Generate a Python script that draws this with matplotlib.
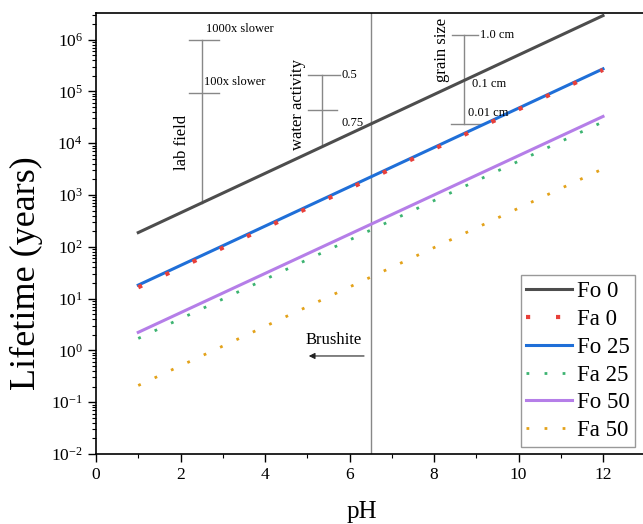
import matplotlib
matplotlib.use('Agg')
import matplotlib.pyplot as plt

plt.rcParams['font.family'] = ['Liberation Serif', 'DejaVu Serif']
plt.rcParams['mathtext.default'] = 'regular'
plt.rcParams['axes.unicode_minus'] = False

# lifetimes (years) at the two ends of the pH range
ph = [1, 12]
fo0 = [188, 2.9e6]
fa0 = [16.5, 2.6e5]
fo25 = [18.2, 2.72e5]
fa25 = [1.7, 2.58e4]
fo50 = [2.23, 3.28e4]
fa50 = [0.21, 3.2e3]

brushite_ph = 6.5

# scale bars (pH position, lifetime ends)
lab_ph = 2.5
lab_span = [700, 1.0e6]
lab_marks = [1.0e6, 9.3e4]
lab_labels = ['1000x slower', '100x slower']

water_ph = 5.34
water_span = [8.7e3, 2.1e5]
water_marks = [2.1e5, 4.3e4]
water_labels = ['0.5', '0.75']

grain_ph = 8.72
grain_span = [2.3e4, 1.25e6]
grain_marks = [1.25e6, 2.3e4]
grain_labels = ['1.0 cm', '0.1 cm', '0.01 cm']
grain_label_y = [1.25e6, 1.4e5, 3.9e4]
grain_label_x = [9.09, 8.89, 8.80]

fig = plt.figure(figsize=(6.43, 5.24), dpi=100)
ax = fig.add_axes([96/643, 1-454/524, 1-96/643, (454-12.7)/524])

gray = '#888888'
ax.plot(ph, fo0, color='#4d4d4d', lw=2.2, label='Fo 0', zorder=3)
ax.plot(ph, fa0, color='#e8403a', lw=3, ls=(0, (1, 6.2)), label='Fa 0', zorder=4)
ax.plot(ph, fo25, color='#1f6fd8', lw=2.2, label='Fo 25', zorder=3)
ax.plot(ph, fa25, color='#3cb371', lw=2, ls=(0, (1, 5.5)), label='Fa 25', zorder=3)
ax.plot(ph, fo50, color='#b57ee8', lw=2.2, label='Fo 50', zorder=3)
ax.plot(ph, fa50, color='#e3a21a', lw=2, ls=(0, (1, 5.5)), label='Fa 50', zorder=3)

# brushite boundary
ax.axvline(brushite_ph, color=gray, lw=1, zorder=1)
ax.text(5.63, 1.6, 'Brushite', fontsize=12, ha='center', va='center')
ax.annotate('', xy=(4.97, 0.78), xytext=(6.41, 0.78),
            arrowprops=dict(arrowstyle='-|>', color='#222222', lw=0.8,
                            mutation_scale=9))

# lab field bar
ax.plot([lab_ph, lab_ph], lab_span, color=gray, lw=1)
for m in lab_marks:
    ax.plot([2.2, 2.91], [m, m], color=gray, lw=1)
ax.text(2.6, 1.2e6, lab_labels[0], fontsize=9, ha='left', va='bottom')
ax.text(2.55, 1.15e5, lab_labels[1], fontsize=9, ha='left', va='bottom')
ax.text(2.03, 1.05e4, 'lab field', fontsize=12, rotation=90, ha='center', va='center')

# water activity bar
ax.plot([water_ph, water_ph], water_span, color=gray, lw=1)
ax.plot([5.02, 5.78], [water_marks[0]] * 2, color=gray, lw=1)
ax.plot([5.02, 5.70], [water_marks[1]] * 2, color=gray, lw=1)
ax.text(5.8, water_marks[0], water_labels[0], fontsize=9, ha='left', va='center')
ax.text(5.8, 2.4e4, water_labels[1], fontsize=9, ha='left', va='center')
ax.text(4.77, 5.6e4, 'water activity', fontsize=12, rotation=90, ha='center', va='center')

# grain size bar
ax.plot([grain_ph, grain_ph], grain_span, color=gray, lw=1)
ax.plot([8.42, 9.04], [grain_marks[0]] * 2, color=gray, lw=1)
ax.plot([8.40, 9.13], [grain_marks[1]] * 2, color=gray, lw=1)
for lx, ly, lt in zip(grain_label_x, grain_label_y, grain_labels):
    ax.text(lx, ly, lt, fontsize=9, ha='left', va='center')
ax.text(8.2, 6.3e5, 'grain size', fontsize=12, rotation=90, ha='center', va='center')

ax.set_yscale('log')
ax.set_xlim(0, (643-96)/42.25)
ax.set_ylim(1e-2, 3.3e6)
ax.set_xticks([0, 2, 4, 6, 8, 10, 12])
ax.set_xticks([1, 3, 5, 7, 9, 11], minor=True)
ax.tick_params(which='major', length=6, width=1, labelsize=12.5, direction='out')
ax.tick_params(which='minor', length=3, width=0.8, direction='out')
ax.spines['right'].set_visible(False)
for s in ['left', 'bottom', 'top']:
    ax.spines[s].set_linewidth(1.2)

ax.set_xlabel('pH', fontsize=18, va='center')
ax.xaxis.set_label_coords(0.486, -0.131)
ax.set_ylabel('Lifetime (years)', fontsize=26, va='center')
ax.yaxis.set_label_coords(-0.128, 0.41)

leg = ax.legend(loc='upper left', bbox_to_anchor=((520.7-96)/547, 1-(275-12.7)/441.3),
                borderaxespad=0, fontsize=16.5, handlelength=2.0, handletextpad=0.2,
                labelspacing=0.3, borderpad=0.25, fancybox=False, framealpha=1,
                edgecolor='#999999')
leg.get_frame().set_linewidth(1)

fig.savefig('out.png', dpi=100)
